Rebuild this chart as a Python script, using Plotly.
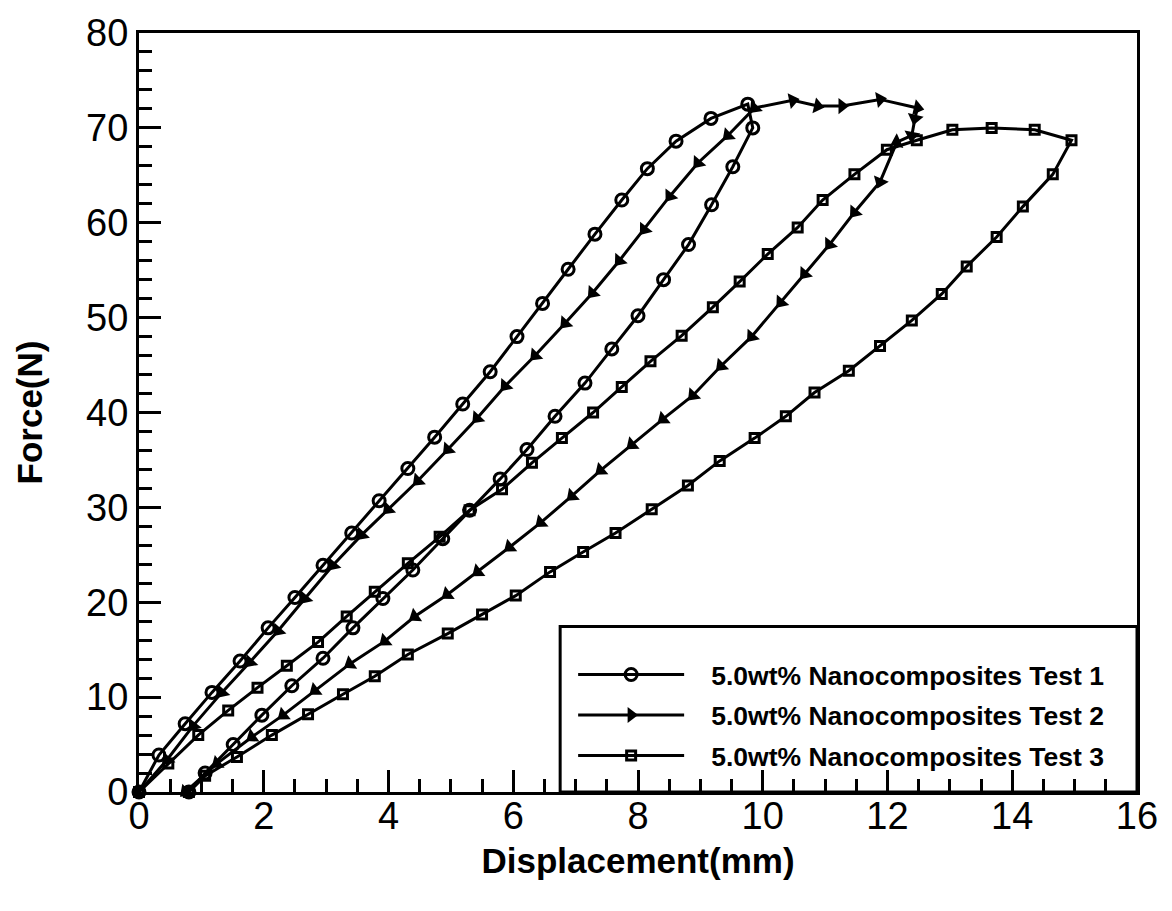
import plotly.graph_objects as go

# ---------------- data ----------------
x_test1 = [0, 0.32, 0.74, 1.17, 1.62, 2.07, 2.5, 2.95, 3.41, 3.85, 4.31, 4.74, 5.19, 5.63, 6.06,
           6.47, 6.88, 7.31, 7.74, 8.15, 8.61, 9.17, 9.76, 9.84, 9.52, 9.18, 8.81, 8.41, 8.0,
           7.58, 7.15, 6.67, 6.22, 5.79, 5.3, 4.87, 4.39, 3.91, 3.43, 2.95, 2.45, 1.97, 1.51,
           1.06, 0.8]
y_test1 = [0, 3.9, 7.2, 10.5, 13.8, 17.3, 20.5, 23.9, 27.3, 30.7, 34.1, 37.4, 40.9, 44.3, 48.0,
           51.5, 55.1, 58.8, 62.4, 65.7, 68.6, 71.0, 72.5, 70.0, 65.9, 61.9, 57.7, 54.0, 50.2,
           46.7, 43.1, 39.6, 36.1, 33.0, 29.7, 26.7, 23.4, 20.4, 17.3, 14.1, 11.2, 8.1, 5.0,
           2.0, 0]

x_test2 = [0, 0.45, 0.87, 1.33, 1.78, 2.23, 2.66, 3.11, 3.57, 3.99, 4.47, 4.95, 5.42, 5.87, 6.35,
           6.83, 7.27, 7.7, 8.1, 8.51, 8.96, 9.44, 9.87, 10.48, 10.88, 11.27, 11.88, 12.48,
           12.44, 12.39, 12.15, 11.88, 11.47, 11.07, 10.67, 10.29, 9.82, 9.33, 8.88, 8.4, 7.9,
           7.4, 6.94, 6.44, 5.94, 5.43, 4.94, 4.42, 3.94, 3.38, 2.82, 2.31, 1.81, 1.25, 0.74]
y_test2 = [0, 3.4, 7.0, 10.5, 13.7, 17.0, 20.4, 23.9, 27.1, 29.8, 32.8, 36.1, 39.4, 42.8, 46.0,
           49.4, 52.6, 56.0, 59.3, 62.8, 66.3, 69.2, 72.1, 72.9, 72.3, 72.3, 73.0, 72.1,
           71.0, 69.2, 68.5, 64.3, 61.1, 57.7, 54.6, 51.6, 48.0, 44.9, 41.8, 39.3, 36.6,
           33.9, 31.2, 28.4, 25.8, 23.2, 20.8, 18.5, 15.9, 13.5, 10.7, 8.1, 5.8, 3.0, 0]

x_test3 = [0, 0.47, 0.95, 1.43, 1.9, 2.37, 2.87, 3.33, 3.78, 4.31, 4.82, 5.3, 5.82, 6.3, 6.78,
           7.28, 7.74, 8.2, 8.7, 9.2, 9.63, 10.08, 10.56, 10.96, 11.47, 11.99, 12.47, 13.04,
           13.67, 14.36, 14.95, 14.65, 14.17, 13.75, 13.27, 12.87, 12.39, 11.88, 11.38, 10.83,
           10.37, 9.87, 9.31, 8.8, 8.22, 7.64, 7.12, 6.59, 6.04, 5.5, 4.95, 4.31, 3.78, 3.27,
           2.71, 2.13, 1.57, 1.06, 0.8]
y_test3 = [0, 3.0, 6.0, 8.6, 11.0, 13.3, 15.8, 18.5, 21.1, 24.1, 26.9, 29.7, 31.9, 34.7, 37.3,
           40.0, 42.7, 45.4, 48.1, 51.1, 53.8, 56.7, 59.5, 62.4, 65.1, 67.7, 68.7, 69.8,
           70.0, 69.8, 68.7, 65.1, 61.7, 58.5, 55.4, 52.5, 49.7, 47.0, 44.4, 42.1,
           39.6, 37.3, 34.9, 32.3, 29.8, 27.3, 25.3, 23.2, 20.7, 18.7, 16.7, 14.5, 12.2, 10.3,
           8.2, 6.0, 3.7, 1.7, 0]

names = ["5.0wt% Nanocomposites Test 1",
         "5.0wt% Nanocomposites Test 2",
         "5.0wt% Nanocomposites Test 3"]

x_ticks = [0, 2, 4, 6, 8, 10, 12, 14, 16]
y_ticks = [0, 10, 20, 30, 40, 50, 60, 70, 80]

# ---------------- figure ----------------
FONT = "Liberation Sans, Arial, sans-serif"
PAD = "\u00a0\u00a0\u00a0"  # gap between legend sample and text
fig = go.Figure()

fig.add_trace(go.Scatter(
    x=x_test1, y=y_test1, name=PAD + names[0], mode="lines+markers", cliponaxis=False,
    legendgroup="g1",
    line=dict(color="black", width=3),
    marker=dict(symbol="circle-open", size=12, color="black", line=dict(color="black", width=3)),
))

# triangles follow the curve direction; on the loading branch (up to the first peak)
# they point back toward the origin, elsewhere along the path
peak2 = 22
angles2 = [90 if i <= peak2 else -90 for i in range(len(x_test2))]
fig.add_trace(go.Scatter(
    x=x_test2, y=y_test2, name=PAD + names[1], mode="lines+markers", cliponaxis=False,
    legendgroup="g2", showlegend=False,
    line=dict(color="black", width=3),
    marker=dict(symbol="triangle-right", size=14, color="black", angleref="previous",
                angle=angles2, line=dict(width=0)),
))
# legend entry for test 2 (plain right-pointing triangle)
fig.add_trace(go.Scatter(
    x=[None], y=[None], name=PAD + names[1], mode="lines+markers",
    legendgroup="g2", showlegend=True,
    line=dict(color="black", width=3),
    marker=dict(symbol="triangle-right", size=14, color="black", line=dict(width=0)),
))

fig.add_trace(go.Scatter(
    x=x_test3, y=y_test3, name=PAD + names[2], mode="lines+markers", cliponaxis=False,
    legendgroup="g3",
    line=dict(color="black", width=3),
    marker=dict(symbol="square-open", size=9, color="black", line=dict(color="black", width=3)),
))

axis_common = dict(
    showgrid=False, zeroline=False, showline=True, linecolor="black", linewidth=3,
    mirror=True, ticks="inside", ticklen=22, tickwidth=3, tickcolor="black",
    tickfont=dict(family=FONT, size=38, color="black"),
)

fig.update_xaxes(
    range=[0, 16], tickvals=x_ticks, ticktext=[str(v) for v in x_ticks],
    minor=dict(dtick=0.5, ticks="inside", ticklen=13, tickwidth=3, tickcolor="black"),
    ticklabelstandoff=-12,
    title=dict(text="Displacement(mm)", font=dict(family=FONT, size=35, color="black", weight="bold"),
               standoff=13),
    **axis_common,
)
fig.update_yaxes(
    range=[0, 80], tickvals=y_ticks, ticktext=[str(v) for v in y_ticks],
    minor=dict(dtick=2, ticks="inside", ticklen=13, tickwidth=3, tickcolor="black"),
    title=dict(text="Force(N)", font=dict(family=FONT, size=35, color="black", weight="bold"),
               standoff=33),
    **axis_common,
)

# legend frame
fig.add_shape(type="rect", xref="paper", yref="paper", x0=0.422, x1=1.0, y0=0.0, y1=0.218,
              line=dict(color="black", width=3), fillcolor="white", layer="below")

fig.update_layout(
    width=1172, height=911,
    margin=dict(l=139, r=35, t=27, b=119),
    paper_bgcolor="white", plot_bgcolor="rgba(0,0,0,0)",
    showlegend=True,
    legend=dict(
        x=0.435, y=0.186, xanchor="left", yanchor="top",
        bgcolor="rgba(0,0,0,0)", borderwidth=0,
        font=dict(family=FONT, size=26.5, color="black", weight="bold"),
        itemwidth=106, traceorder="grouped", tracegroupgap=3,
    ),
)

fig.write_html("out.html")
